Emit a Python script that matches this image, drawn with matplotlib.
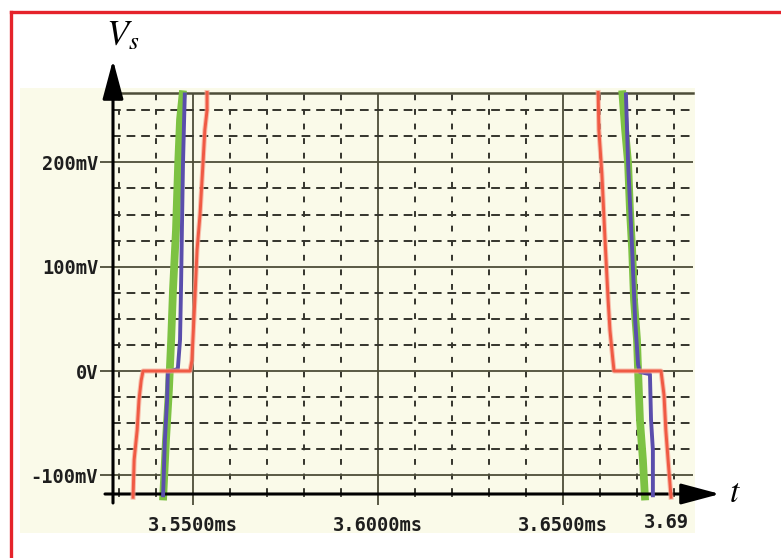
import matplotlib.pyplot as plt
from matplotlib.ticker import MultipleLocator
from matplotlib.patches import Rectangle
from matplotlib.lines import Line2D

plt.rcParams['mathtext.fontset'] = 'stix'

# ---- traces: time in ms, voltage in mV ----
red_rise_t = [3.5338, 3.5341, 3.5349, 3.5354, 3.5360, 3.5365, 3.5492, 3.5497,
              3.5505, 3.5511, 3.5519, 3.5527, 3.5532, 3.5538, 3.5538]
red_rise_v = [-121, -85, -57, -28, -9, 0, 0, 10, 68, 116, 150, 199, 231, 250, 267]

red_fall_t = [3.6595, 3.6597, 3.6605, 3.6614, 3.6622, 3.6627, 3.6635, 3.6638,
              3.6765, 3.6773, 3.6778, 3.6784, 3.6792]
red_fall_v = [267, 231, 190, 123, 68, 39, 10, 0, 0, -23, -57, -85, -121]

green_rise_t = [3.5419, 3.5427, 3.5435, 3.5441, 3.5446, 3.5454, 3.5460, 3.5465, 3.5473]
green_rise_v = [-124, -66, -18, 30, 78, 135, 199, 241, 269]

green_fall_t = [3.6660, 3.6668, 3.6676, 3.6681, 3.6687, 3.6692, 3.6700, 3.6703,
                3.6708, 3.6716, 3.6722]
green_fall_v = [269, 231, 199, 154, 116, 68, 30, 0, -47, -85, -124]

blue_rise_t = [3.5419, 3.5424, 3.5430, 3.5432, 3.5459, 3.5465, 3.5468, 3.5470,
               3.5473, 3.5476, 3.5478]
blue_rise_v = [-121, -66, -28, -1, 2, 30, 87, 135, 199, 241, 267]

blue_fall_t = [3.6670, 3.6676, 3.6687, 3.6695, 3.6703, 3.6708, 3.6735, 3.6738,
               3.6743, 3.6743]
blue_fall_v = [267, 199, 116, 49, 6, -1, -3, -47, -76, -121]

x_ticks = [3.55, 3.60, 3.65]
x_labels = ['3.5500ms', '3.6000ms', '3.6500ms']
y_ticks = [-100, 0, 100, 200]
y_labels = ['-100mV', '0V', '100mV', '200mV']

cream = '#fafae9'
olive = '#4d4d38'
dash_col = '#34342c'
text_col = '#1e1e1e'

W, H = 781, 558


def fx(px):
    return px / W


def fy(py):
    return 1 - py / H


fig = plt.figure(figsize=(W / 100, H / 100), dpi=100)

# cream panel behind the plot
fig.patches.append(Rectangle((fx(20), fy(533)), fx(695) - fx(20), fy(88) - fy(533),
                             transform=fig.transFigure, facecolor=cream,
                             edgecolor='none', zorder=-5))

# red frame (top and left edges)
fig.add_artist(Line2D([fx(11), 1.0], [fy(12), fy(12)], color='#e5232b', lw=2.4))
fig.add_artist(Line2D([fx(11), fx(11)], [fy(12), 0.0], color='#e5232b', lw=2.4))

ax = fig.add_axes([fx(112), fy(494), fx(693) - fx(112), fy(93) - fy(494)])
ax.patch.set_visible(False)
ax.set_xlim(3.52811, 3.68514)
ax.set_ylim(-117.9, 266.5)

ax.set_xticks(x_ticks)
ax.set_xticklabels(x_labels)
ax.set_yticks(y_ticks)
ax.set_yticklabels(y_labels)
ax.xaxis.set_minor_locator(MultipleLocator(0.01))
ax.yaxis.set_minor_locator(MultipleLocator(25))

ax.set_axisbelow(True)
ax.grid(which='major', color=olive, lw=1.3, ls='-')
ax.xaxis.grid(which='minor', color=dash_col, lw=1.4, ls=(0, (3, 4.5)))
ax.yaxis.grid(which='minor', color=dash_col, lw=1.4, ls=(0, (4.5, 3)))

ax.tick_params(axis='x', which='major', length=8, width=1.3, color=olive, pad=8)
ax.tick_params(axis='x', which='minor', length=2.5, width=1.2, color=dash_col)
ax.tick_params(axis='y', which='major', length=9, width=1.3, color=olive, pad=1)
ax.tick_params(axis='y', which='minor', length=0)
for lbl in ax.get_xticklabels() + ax.get_yticklabels():
    lbl.set_family('DejaVu Sans Mono')
    lbl.set_weight('bold')
    lbl.set_size(13.5)
    lbl.set_color(text_col)

for side in ['left', 'bottom', 'right']:
    ax.spines[side].set_visible(False)
ax.spines['top'].set_color(olive)
ax.spines['top'].set_linewidth(1.8)

# traces
for t, v in [(green_rise_t, green_rise_v), (green_fall_t, green_fall_v)]:
    ax.plot(t, v, color='#7dc243', lw=5.6, solid_capstyle='butt', clip_on=False, zorder=3)
for t, v in [(blue_rise_t, blue_rise_v), (blue_fall_t, blue_fall_v)]:
    ax.plot(t, v, color='#5a4eac', lw=2.8, solid_capstyle='butt', clip_on=False, zorder=4)
for t, v in [(red_rise_t, red_rise_v), (red_fall_t, red_fall_v)]:
    ax.plot(t, v, color='#f7a593', lw=3.6, alpha=0.7, clip_on=False, zorder=4)
    ax.plot(t, v, color='#f05a44', lw=2.1, clip_on=False, zorder=5)

# axis arrows
arrow = dict(arrowstyle='-|>,head_length=1.2,head_width=0.32', color='black',
             lw=2.2, mutation_scale=20, shrinkA=0, shrinkB=0)
ax.annotate('', xy=(fx(113), fy(60)), xytext=(fx(113), fy(503)),
            xycoords='figure fraction', textcoords='figure fraction', arrowprops=arrow)
ax.annotate('', xy=(fx(720), fy(494)), xytext=(fx(105), fy(494)),
            xycoords='figure fraction', textcoords='figure fraction', arrowprops=arrow)

# cut-off label at the right edge
fig.text(fx(644), fy(523), '3.69', ha='left', va='center', family='DejaVu Sans Mono',
         weight='bold', size=13.5, color=text_col)

fig.text(fx(106), fy(35), r'$V_s$', ha='left', va='center', size=26, color='black')
fig.text(fx(729), fy(492), r'$t$', ha='left', va='center', size=24, color='black')

fig.savefig('out.png', dpi=100)
